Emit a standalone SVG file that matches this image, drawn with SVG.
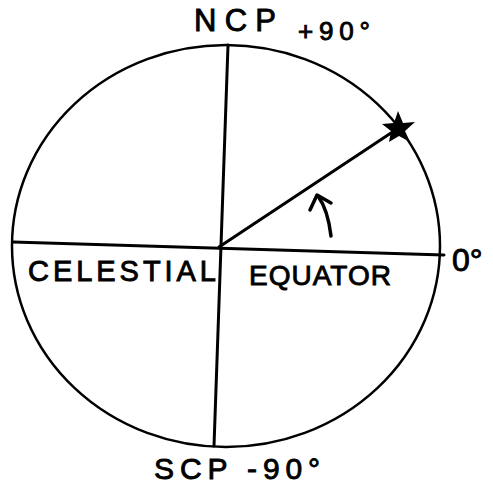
<svg xmlns="http://www.w3.org/2000/svg" width="493" height="485" viewBox="0 0 493 485">
<style>
.ln{stroke:#000;fill:none;stroke-linecap:round;stroke-linejoin:round}
.t{font-family:"Liberation Sans",Arial,sans-serif;fill:#000;stroke:#000;stroke-width:0.9}
</style>
<rect width="493" height="485" fill="#fff"/>
<g id="circle"><ellipse class="ln" cx="226" cy="246" rx="214" ry="201" stroke-width="2.5"/></g>
<g id="connectors">
<line class="ln" x1="228" y1="45" x2="214" y2="446" stroke-width="3"/>
<line class="ln" x1="13" y1="242" x2="444" y2="255" stroke-width="3"/>
<line class="ln" x1="219" y1="247" x2="397" y2="129" stroke-width="3"/>
<path class="ln" d="M331,236 Q328,210 318,196" stroke-width="3.5"/>
<path class="ln" d="M310,210 L317,195 L331,203" stroke-width="3.5"/>
</g>
<g id="star"><path d="M398,111 L403,123 L415,122 L405,131 L410,142 L399,136 L389,142 L391,131 L382,124 L394,123 Z" fill="#000"/></g>
<g id="ncp"><text class="t" x="194" y="31" font-size="31" textLength="82" lengthAdjust="spacing">NCP</text><text class="t" x="298" y="40" font-size="26" textLength="72" lengthAdjust="spacing">+90°</text></g>
<g id="equator"><text class="t" x="28" y="281" font-size="29" textLength="188" lengthAdjust="spacing">CELESTIAL</text><text class="t" x="249" y="285" font-size="28" textLength="142" lengthAdjust="spacing">EQUATOR</text></g>
<g id="zero"><text class="t" x="452" y="271" font-size="32">0°</text></g>
<g id="scp"><text class="t" x="154" y="479" font-size="30" textLength="166" lengthAdjust="spacing">SCP -90°</text></g>
</svg>
